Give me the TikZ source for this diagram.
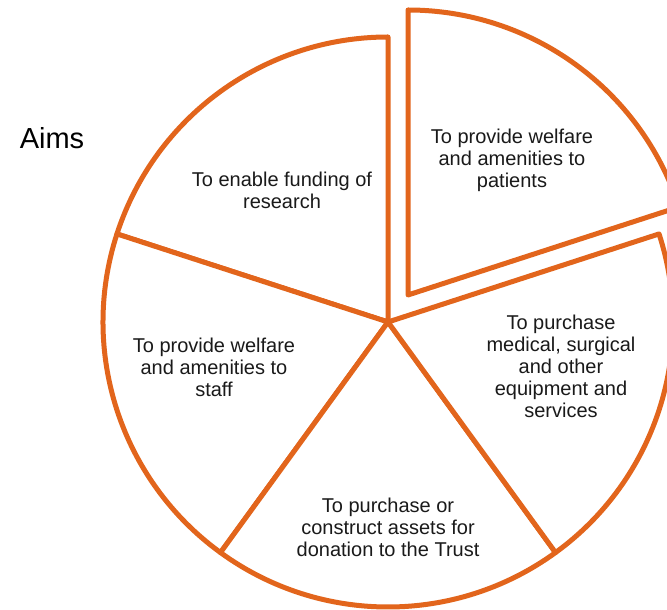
\documentclass[tikz,border=0pt]{standalone}
\usepackage{fontspec}
\setmainfont{Liberation Sans}
\definecolor{pieorange}{RGB}{226,101,28}
\definecolor{inktext}{RGB}{26,26,26}
\begin{document}
\begin{tikzpicture}[x=1pt,y=1pt,
  slice/.style={draw=pieorange, line width=5pt, line join=round, fill=white},
  aim/.style={align=center, text=inktext, font=\fontsize{20}{22}\selectfont, inner sep=0pt}]
\useasboundingbox (0,0) rectangle (667,610);
\clip (0,0) rectangle (667,610);
\def\R{285}
% pie centre and the centre of the pulled-out slice
\coordinate (c) at (388,288);
\coordinate (ce) at (408,315);
% four slices in place
\foreach \a/\b in {90/162,162/234,234/306,-54/18}
  \draw[slice] (c) -- ++(\a:\R) arc[start angle=\a, end angle=\b, radius=\R] -- cycle;
% exploded slice
\draw[slice] (ce) -- ++(18:\R) arc[start angle=18, end angle=90, radius=\R] -- cycle;
% labels
\node[aim] (patients) at (512,450) {To provide welfare\\and amenities to\\patients};
\node[aim] (research) at (282,419.5) {To enable funding of\\research};
\node[aim] (staff) at (214,243) {To provide welfare\\and amenities to\\staff};
\node[aim] (trust) at (388,83) {To purchase or\\construct assets for\\donation to the Trust};
\node[aim] (equip) at (561,243.5) {To purchase\\medical, surgical\\and other\\equipment and\\services};
\node[text=black, font=\fontsize{29}{32}\selectfont, inner sep=0pt] (aims) at (52,472) {Aims};
\end{tikzpicture}
\end{document}
